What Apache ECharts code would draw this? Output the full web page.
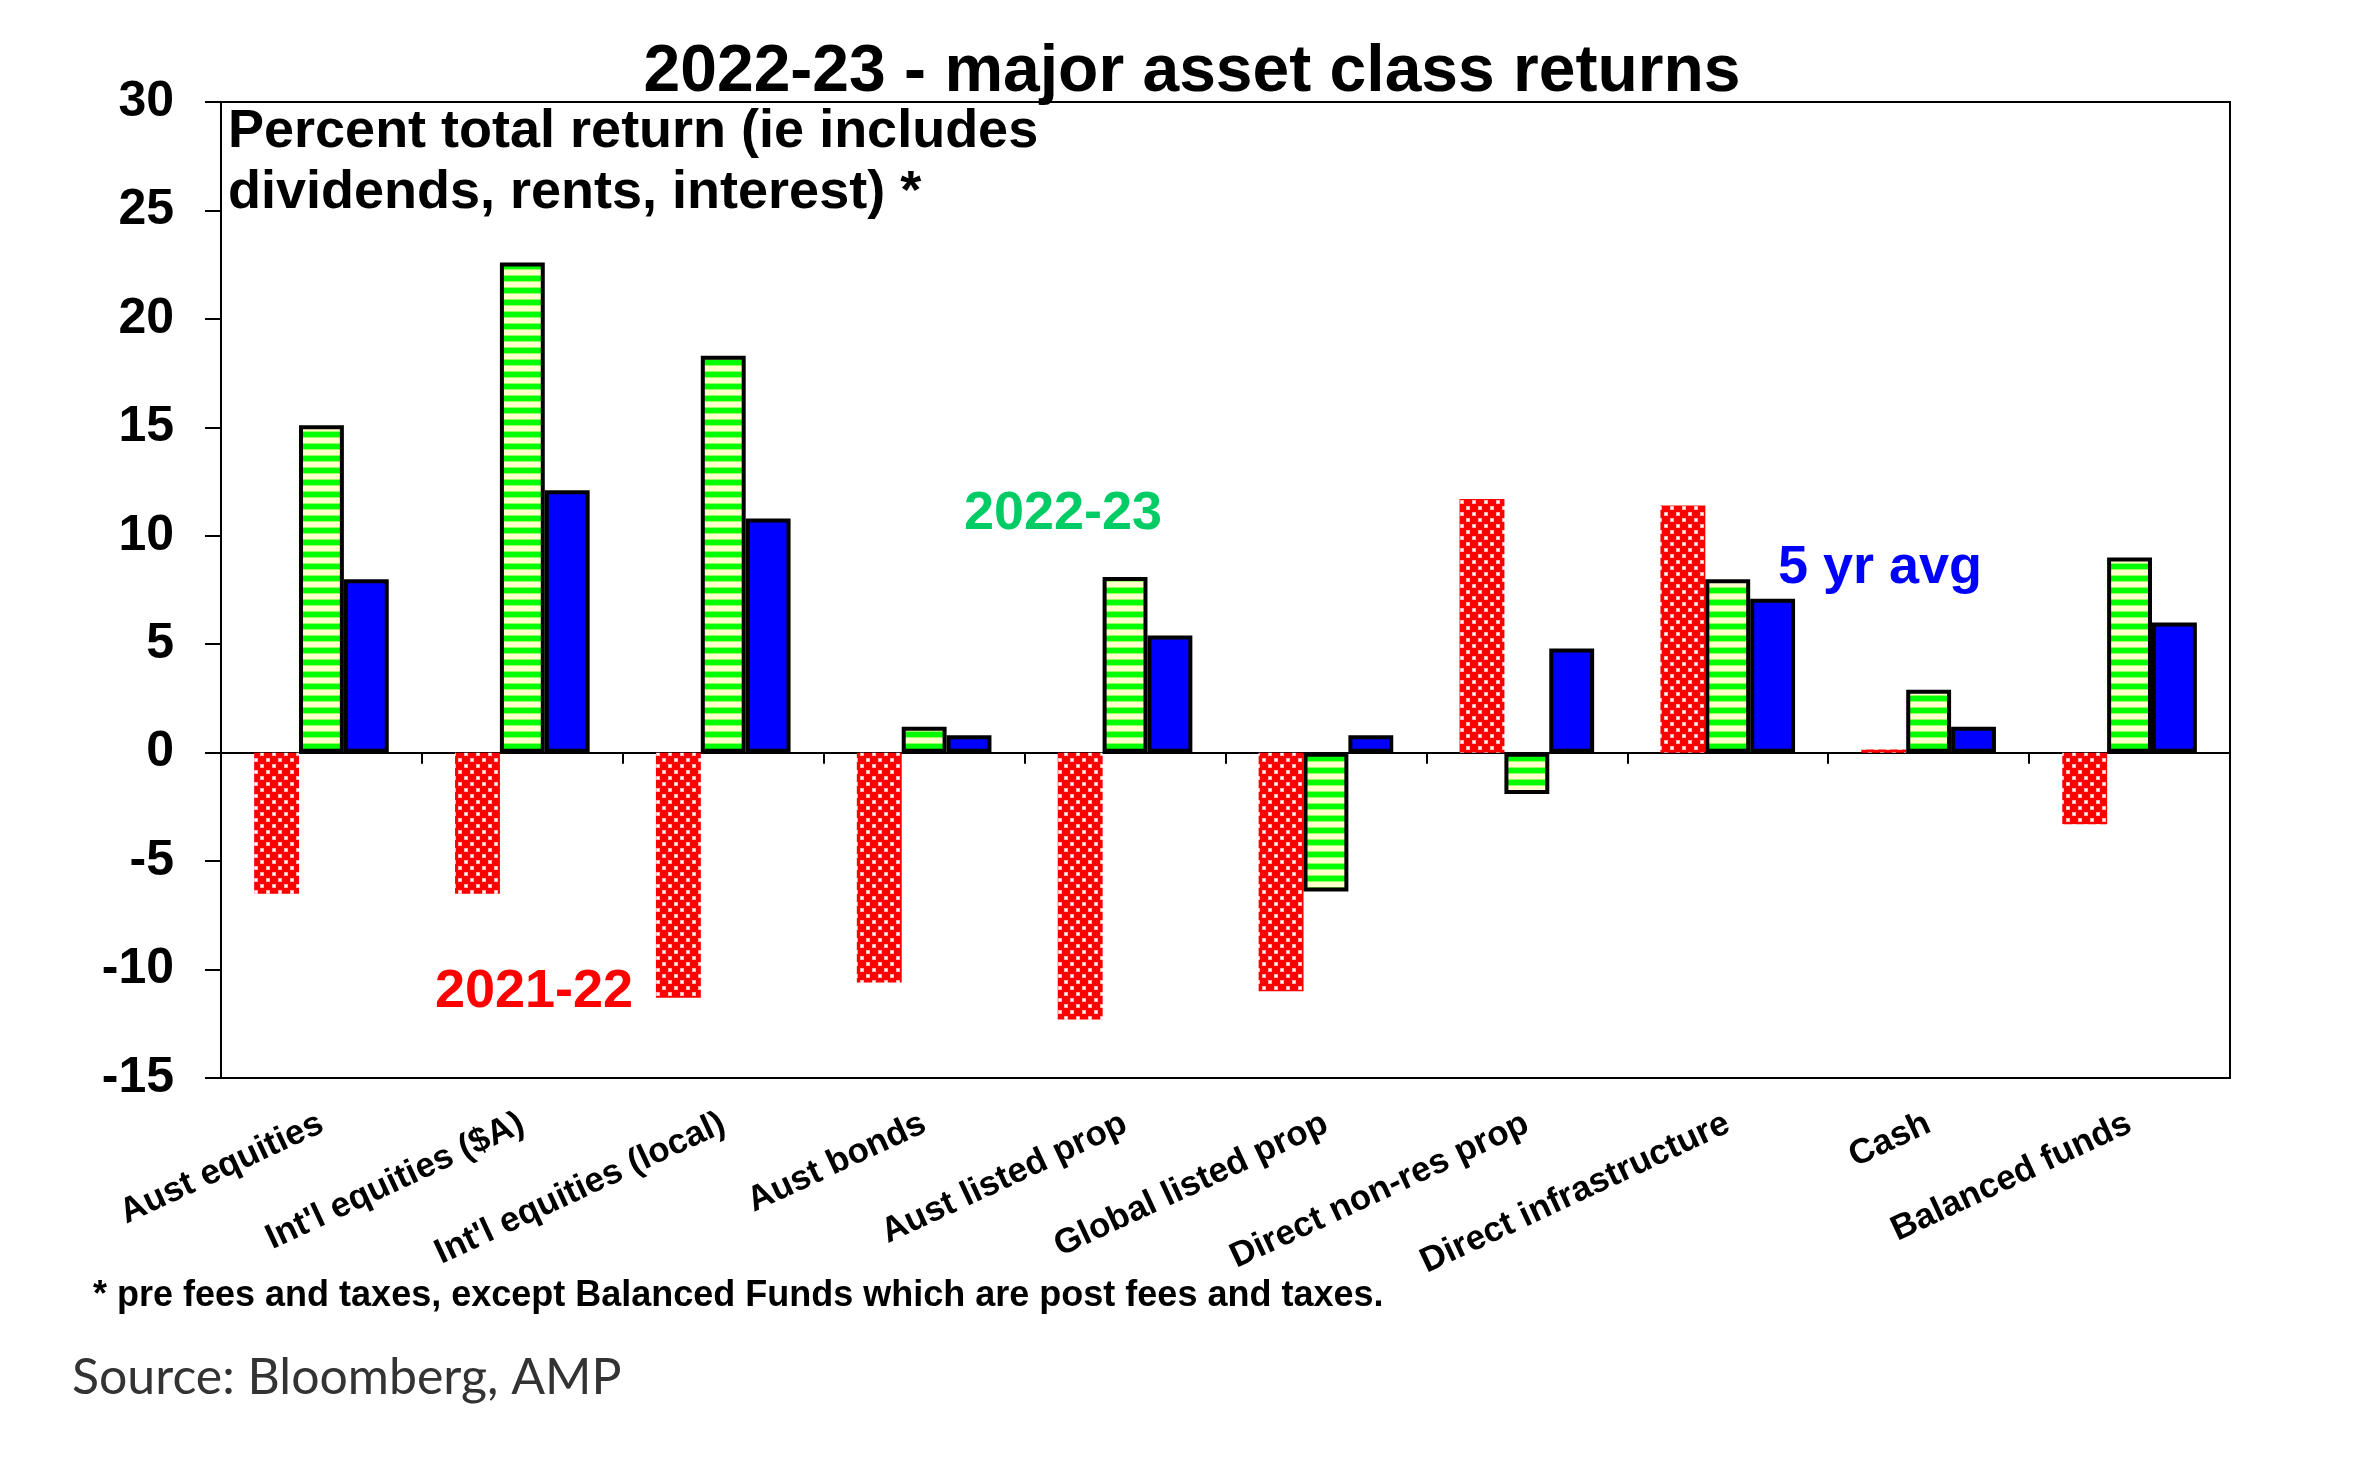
<!DOCTYPE html>
<html><head><meta charset="utf-8">
<script src="https://cdn.jsdelivr.net/npm/echarts@6/dist/echarts.min.js"></script>
<style>html,body{margin:0;padding:0;background:#fff}#c{width:2355px;height:1467px}</style>
</head><body><div id="c"></div>
<script>
const categories = ['Aust equities', "Int'l equities ($A)", "Int'l equities (local)", 'Aust bonds', 'Aust listed prop', 'Global listed prop', 'Direct non-res prop', 'Direct infrastructure', 'Cash', 'Balanced funds'];
const returns2122 = [-6.5, -6.5, -11.3, -10.6, -12.3, -11.0, 11.7, 11.4, 0.15, -3.3];
const returns2223 = [15.1, 22.6, 18.3, 1.2, 8.1, -6.4, -1.9, 8.0, 2.9, 9.0];
const avg5yr = [8.0, 12.1, 10.8, 0.8, 5.4, 0.8, 4.8, 7.1, 1.2, 6.0];
const yMin = -15, yMax = 30, yInterval = 5;

function dotPattern() {
  const c = document.createElement('canvas');
  c.width = 12; c.height = 12;
  const g = c.getContext('2d');
  g.fillStyle = '#ff0000'; g.fillRect(0, 0, 12, 12);
  g.fillStyle = '#ffb0b0';
  g.fillRect(2, 2, 4, 4); g.fillRect(8, 8, 4, 4);
  g.fillStyle = '#ffffff';
  g.fillRect(3, 3, 2, 2); g.fillRect(9, 9, 2, 2);
  return c;
}
function stripePattern() {
  const c = document.createElement('canvas');
  c.width = 12; c.height = 12;
  const g = c.getContext('2d');
  g.fillStyle = '#00ff00'; g.fillRect(0, 0, 12, 5);
  g.fillStyle = '#99ff66'; g.fillRect(0, 5, 12, 1);
  g.fillStyle = '#ffffcc'; g.fillRect(0, 6, 12, 5);
  g.fillStyle = '#99ff66'; g.fillRect(0, 11, 12, 1);
  return c;
}

const FONT = 'Liberation Sans';
const chart = echarts.init(document.getElementById('c'));
chart.setOption({
  backgroundColor: '#ffffff',
  animation: false,
  title: {
    text: '2022-23 - major asset class returns',
    left: 1187, top: 68, textAlign: 'center', textVerticalAlign: 'middle',
    textStyle: { fontFamily: FONT, fontWeight: 'bold', fontSize: 66, color: '#000' }
  },
  grid: { left: 221, right: 125, top: 102, bottom: 389, show: true, borderColor: '#000', borderWidth: 2, backgroundColor: 'transparent' },
  xAxis: [
    {
      type: 'category', data: categories, position: 'bottom',
      axisLine: { show: false, onZero: false },
      axisTick: { show: false },
      axisLabel: { rotate: 25, margin: 44, fontFamily: FONT, fontWeight: 'bold', fontSize: 35, color: '#000', interval: 0 }
    },
    {
      type: 'category', data: categories, position: 'bottom',
      axisLine: { show: true, onZero: true, lineStyle: { color: '#000', width: 2 } },
      axisTick: { show: true, length: 11, lineStyle: { color: '#000', width: 2 } },
      axisLabel: { show: false }
    }
  ],
  yAxis: {
    type: 'value', min: yMin, max: yMax, interval: yInterval,
    splitLine: { show: false },
    axisLine: { show: true, lineStyle: { color: '#000', width: 2 } },
    axisTick: { show: true, length: 16, lineStyle: { color: '#000', width: 2 } },
    axisLabel: { margin: 47, fontFamily: FONT, fontWeight: 'bold', fontSize: 50, color: '#000' }
  },
  series: [
    { name: '2021-22', type: 'bar', data: returns2122, barGap: '0%', barCategoryGap: '33%',
      itemStyle: { color: { image: dotPattern(), repeat: 'repeat' }, borderWidth: 0 } },
    { name: '2022-23', type: 'bar', data: returns2223, barGap: '0%', barCategoryGap: '33%',
      itemStyle: { color: { image: stripePattern(), repeat: 'repeat' }, borderColor: '#000', borderWidth: 4 } },
    { name: '5 yr avg', type: 'bar', data: avg5yr, barGap: '0%', barCategoryGap: '33%',
      itemStyle: { color: '#0000ff', borderColor: '#000', borderWidth: 4 } }
  ],
  graphic: [
    { type: 'text', left: 228, top: 102, style: { text: 'Percent total return (ie includes\ndividends, rents, interest) *', fontFamily: FONT, fontWeight: 'bold', fontSize: 54, lineHeight: 61, fill: '#000' } },
    { type: 'text', x: 1063, y: 514, style: { text: '2022-23', align: 'center', verticalAlign: 'middle', fontFamily: FONT, fontWeight: 'bold', fontSize: 54, fill: '#00cc66' } },
    { type: 'text', x: 1880, y: 568, style: { text: '5 yr avg', align: 'center', verticalAlign: 'middle', fontFamily: FONT, fontWeight: 'bold', fontSize: 54, fill: '#0000ff' } },
    { type: 'text', x: 534, y: 992, style: { text: '2021-22', align: 'center', verticalAlign: 'middle', fontFamily: FONT, fontWeight: 'bold', fontSize: 54, fill: '#ff0000' } },
    { type: 'text', x: 93, y: 1296, style: { text: '* pre fees and taxes, except Balanced Funds which are post fees and taxes.', verticalAlign: 'middle', fontFamily: FONT, fontWeight: 'bold', fontSize: 36, fill: '#000' } },
    { type: 'text', x: 72, y: 1378, style: { text: 'Source: Bloomberg, AMP', verticalAlign: 'middle', fontFamily: 'Lato', fontSize: 50, fill: '#333' } }
  ]
});
</script></body></html>
